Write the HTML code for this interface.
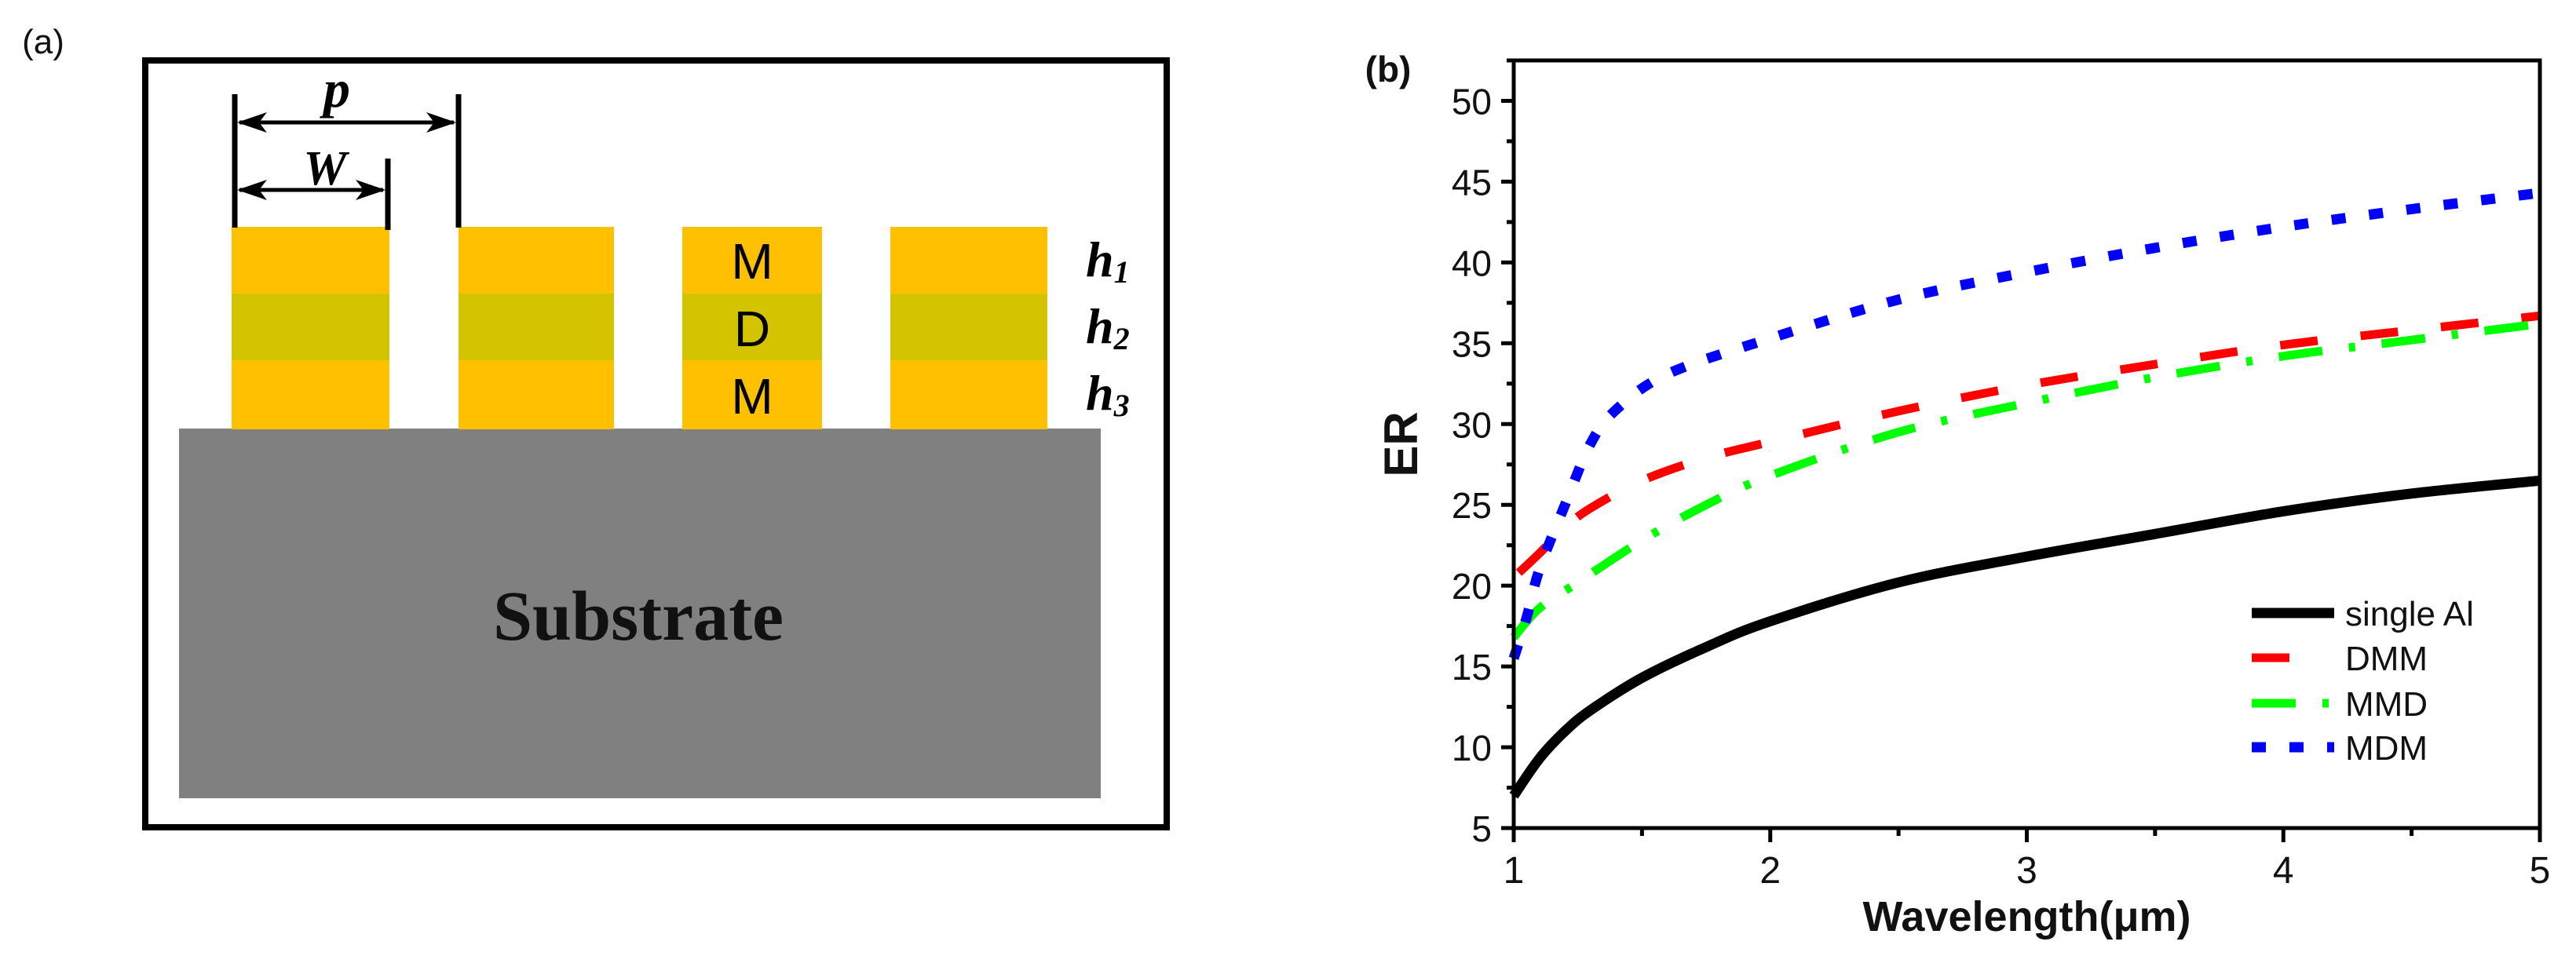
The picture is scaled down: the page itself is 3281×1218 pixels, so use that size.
<!DOCTYPE html>
<html><head><meta charset="utf-8"><style>
html,body{margin:0;padding:0;background:#fff;}
svg{display:block;}
</style></head><body>
<svg id="fig" width="3281" height="1218" viewBox="0 0 3281 1218" xmlns="http://www.w3.org/2000/svg">
  <!-- Panel (a) -->
  <g>
    <text x="55" y="68" font-family="Liberation Sans, sans-serif" font-size="44" fill="#111" text-anchor="middle">(a)</text>
    <rect x="185" y="77" width="1301" height="977" fill="none" stroke="#000" stroke-width="8"/>
    <rect x="228" y="546" width="1174" height="471" fill="#808080"/>
    <text x="813" y="815" font-family="Liberation Serif, serif" font-weight="bold" font-size="90" fill="#111" text-anchor="middle">Substrate</text>
    <g>
      <rect x="295" y="289" width="201" height="85" fill="#FFC000"/><rect x="295" y="374" width="201" height="85" fill="#D4C400"/><rect x="295" y="459" width="201" height="88" fill="#FFC000"/>
    </g>
    <g>
      <rect x="584" y="289" width="198" height="85" fill="#FFC000"/><rect x="584" y="374" width="198" height="85" fill="#D4C400"/><rect x="584" y="459" width="198" height="88" fill="#FFC000"/>
    </g>
    <g>
      <rect x="869" y="289" width="178" height="85" fill="#FFC000"/><rect x="869" y="374" width="178" height="85" fill="#D4C400"/><rect x="869" y="459" width="178" height="88" fill="#FFC000"/>
    </g>
    <g>
      <rect x="1134" y="289" width="200" height="85" fill="#FFC000"/><rect x="1134" y="374" width="200" height="85" fill="#D4C400"/><rect x="1134" y="459" width="200" height="88" fill="#FFC000"/>
    </g>
    <g font-family="Liberation Sans, sans-serif" font-size="64" fill="#000" text-anchor="middle">
      <text x="958" y="355">M</text>
      <text x="958" y="441">D</text>
      <text x="958" y="527">M</text>
    </g>
    <g font-family="Liberation Serif, serif" font-style="italic" font-weight="bold" fill="#000">
      <text x="1383" y="352" font-size="64">h<tspan font-size="40" dy="8">1</tspan></text>
      <text x="1383" y="437" font-size="64">h<tspan font-size="40" dy="8">2</tspan></text>
      <text x="1383" y="522" font-size="64">h<tspan font-size="40" dy="8">3</tspan></text>
      <text x="429" y="136" font-size="68" text-anchor="middle">p</text>
      <text x="414" y="235" font-size="62" text-anchor="middle">W</text>
    </g>
    <g stroke="#000" stroke-width="7">
      <line x1="299" y1="120" x2="299" y2="290"/>
      <line x1="584" y1="120" x2="584" y2="290"/>
      <line x1="494" y1="202" x2="494" y2="293"/>
      <line x1="305" y1="156" x2="578" y2="156" stroke-width="5"/>
      <line x1="305" y1="242" x2="488" y2="242" stroke-width="5"/>
    </g>
    <g fill="#000">
      <path d="M302 156 L340 143 L330 156 L340 169 Z"/>
      <path d="M581 156 L543 143 L553 156 L543 169 Z"/>
      <path d="M302 242 L340 229 L330 242 L340 255 Z"/>
      <path d="M491 242 L453 229 L463 242 L453 255 Z"/>
    </g>
  </g>
  <!-- Panel (b) -->
  <g id="chart"></g>
</svg>
<script>
const xTicks = [1, 2, 3, 4, 5];
const yTicks = [5, 10, 15, 20, 25, 30, 35, 40, 45, 50];
const seriesNames = ["single Al", "DMM", "MMD", "MDM"];
const xSingleAl = [1, 1.1, 1.2, 1.3, 1.5, 1.75, 2, 2.5, 3, 3.5, 4, 4.5, 5];
const ySingleAl = [7, 9.3, 11, 12.3, 14.3, 16.2, 17.8, 20.2, 21.8, 23.2, 24.6, 25.7, 26.5];
const xDMM = [1.02, 1.1, 1.2, 1.3, 1.5, 1.75, 2, 2.5, 3, 3.5, 4, 4.5, 5];
const yDMM = [20.8, 22, 23.6, 24.8, 26.5, 27.9, 28.9, 30.8, 32.4, 33.7, 34.9, 35.8, 36.7];
const xMMD = [1, 1.1, 1.25, 1.5, 1.75, 2, 2.5, 3, 3.5, 4, 4.5, 5];
const yMMD = [16.8, 18.6, 20.2, 22.8, 25, 26.8, 29.5, 31.3, 32.9, 34.2, 35.2, 36.2];
const xMDM = [1, 1.05, 1.1, 1.2, 1.3, 1.4, 1.6, 2, 2.5, 3, 3.5, 4, 4.5, 5];
const yMDM = [15.5, 18, 21, 25, 28.8, 30.9, 33.1, 35.3, 37.7, 39.4, 40.9, 42.2, 43.3, 44.3];

const NS = "http://www.w3.org/2000/svg";
const L = 1928, R = 3235, T = 77, B = 1055;
const xMin = 1, xMax = 5, yMin = 5, yMax = 52.5;
function sx(v){ return L + (v - xMin) / (xMax - xMin) * (R - L); }
function sy(v){ return B - (v - yMin) / (yMax - yMin) * (B - T); }
const g = document.getElementById('chart');
function mk(tag, attrs){ const e = document.createElementNS(NS, tag); for (const k in attrs) e.setAttribute(k, attrs[k]); g.appendChild(e); return e; }
function smoothPath(pts){
  let d = "M" + pts[0][0].toFixed(1) + " " + pts[0][1].toFixed(1);
  for (let i = 0; i < pts.length - 1; i++) {
    const p0 = pts[Math.max(0, i - 1)], p1 = pts[i], p2 = pts[i + 1], p3 = pts[Math.min(pts.length - 1, i + 2)];
    const c1x = p1[0] + (p2[0] - p0[0]) / 6, c1y = p1[1] + (p2[1] - p0[1]) / 6;
    const c2x = p2[0] - (p3[0] - p1[0]) / 6, c2y = p2[1] - (p3[1] - p1[1]) / 6;
    d += " C" + c1x.toFixed(1) + " " + c1y.toFixed(1) + " " + c2x.toFixed(1) + " " + c2y.toFixed(1) + " " + p2[0].toFixed(1) + " " + p2[1].toFixed(1);
  }
  return d;
}

const styles = [
  {xs: xSingleAl, ys: ySingleAl, color: "#000", w: 13, dash: "", name: "series-single-al"},
  {xs: xDMM, ys: yDMM, color: "#ff0000", w: 11, dash: "48 55", name: "series-dmm"},
  {xs: xMMD, ys: yMMD, color: "#00ff00", w: 11, dash: "56 34 8 34", name: "series-mmd"},
  {xs: xMDM, ys: yMDM, color: "#0000ff", w: 13, dash: "18 30", name: "series-mdm"}
];
styles.forEach(s => {
  const pts = s.xs.map((x, i) => [sx(x), sy(s.ys[i])]);
  const p = mk('path', {d: smoothPath(pts), fill: "none", stroke: s.color, "stroke-width": s.w, "stroke-dasharray": s.dash, "stroke-linejoin": "round"});
  
  
});

const frame = mk('rect', {x: L, y: T, width: R - L, height: B - T, fill: "none", stroke: "#000", "stroke-width": 5});



xTicks.forEach(v => {
  const t = mk('line', {x1: sx(v), y1: B, x2: sx(v), y2: B + 18, stroke: "#000", "stroke-width": 5});
  
  
  const lb = mk('text', {x: sx(v), y: B + 70, "font-family": "Liberation Sans, sans-serif", "font-size": 48, "text-anchor": "middle", fill: "#111"});
  lb.textContent = v;
  
  
  if (v < xMax) {
    const m = mk('line', {x1: sx(v + 0.5), y1: B, x2: sx(v + 0.5), y2: B + 10, stroke: "#000", "stroke-width": 5});
    
    
  }
});
yTicks.forEach(v => {
  const t = mk('line', {x1: L - 16, y1: sy(v), x2: L, y2: sy(v), stroke: "#000", "stroke-width": 5});
  
  
  const lb = mk('text', {x: L - 28, y: sy(v) + 17, "font-family": "Liberation Sans, sans-serif", "font-size": 46, "text-anchor": "end", fill: "#111"});
  lb.textContent = v;
  
  
  const m = mk('line', {x1: L - 9, y1: sy(v + 2.5), x2: L, y2: sy(v + 2.5), stroke: "#000", "stroke-width": 5});
  
  
});

const xt = mk('text', {x: (L + R) / 2, y: 1186, "font-family": "Liberation Sans, sans-serif", "font-weight": "bold", "font-size": 54, "text-anchor": "middle", fill: "#111"});
xt.textContent = "Wavelength(μm)";


const yt = mk('text', {x: 0, y: 0, transform: "translate(1805 566) rotate(-90)", "font-family": "Liberation Sans, sans-serif", "font-weight": "bold", "font-size": 60, "text-anchor": "middle", fill: "#111"});
yt.textContent = "ER";


const pb = mk('text', {x: 1768, y: 104, "font-family": "Liberation Sans, sans-serif", "font-weight": "bold", "font-size": 46, "text-anchor": "middle", fill: "#111"});
pb.textContent = "(b)";



const legY = [781, 838, 896, 952];
const legDash = ["", "48 200", "56 34 8 34", "18 30"];
seriesNames.forEach((n, i) => {
  const s = styles[i];
  const ln = mk('line', {x1: 2868, y1: legY[i], x2: 2973, y2: legY[i], stroke: s.color, "stroke-width": s.w, "stroke-dasharray": legDash[i]});
  
  
  const tx = mk('text', {x: 2987, y: legY[i] + 16, "font-family": "Liberation Sans, sans-serif", "font-size": 44, fill: "#111"});
  tx.textContent = n;
  
  
});
</script>
</body></html>
